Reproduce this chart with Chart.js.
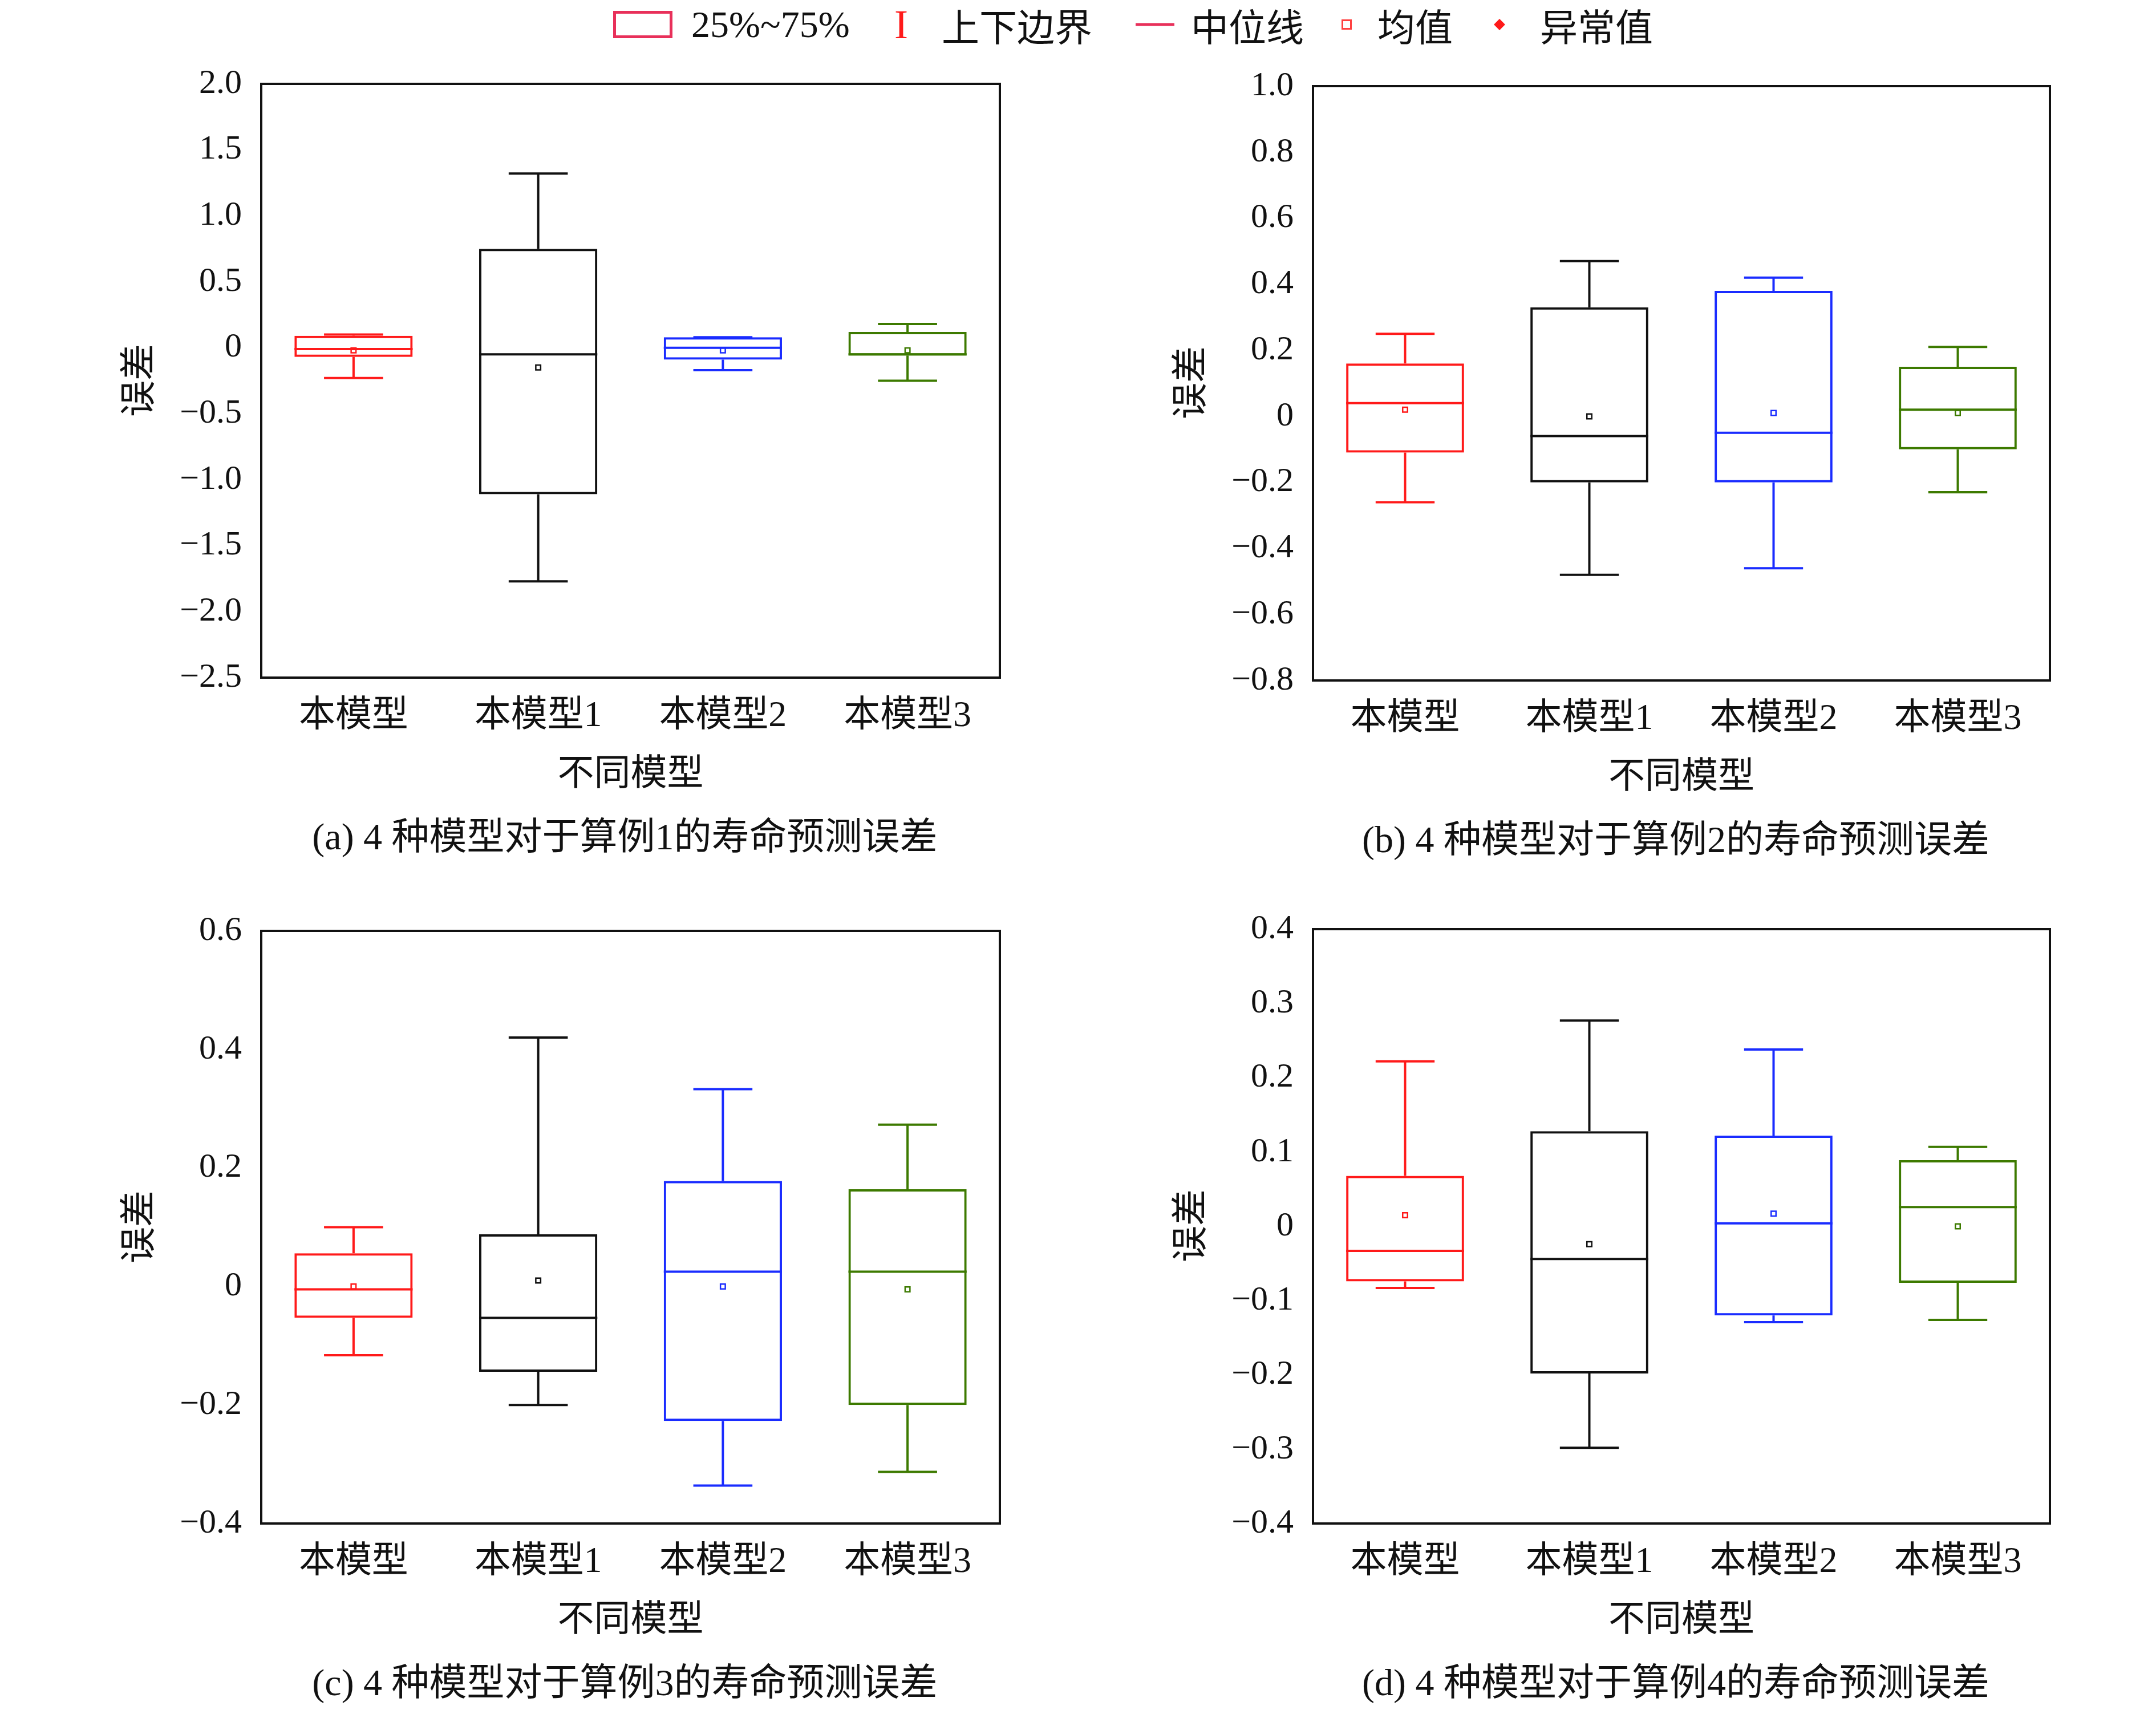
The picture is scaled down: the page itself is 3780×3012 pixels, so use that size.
<!DOCTYPE html>
<html><head><meta charset="utf-8">
<script src="https://cdn.jsdelivr.net/npm/chart.js@4"></script>
<style>
body{margin:0;background:#fff;width:3780px;height:3012px;position:relative;overflow:hidden;
 font-family:"Liberation Serif","Noto Sans CJK SC",serif;color:#111}
canvas{position:absolute}
.t{position:absolute;white-space:nowrap;transform:translate(-50%,-50%);font-size:64px}
.yt{position:absolute;transform:translate(-50%,-50%) rotate(-90deg);font-size:64px;white-space:nowrap}
.lg{position:absolute;top:43px;transform:translateY(-50%);font-size:66px;white-space:nowrap}
</style></head><body>
<script>
const categories = ['本模型', '本模型1', '本模型2', '本模型3'];
const colors = ['#ff1a1a', '#111111', '#1a2cff', '#3d7a00'];

// [whiskerLow, q1, median, q3, whiskerHigh, mean] per model
const caseA = [[-0.23, -0.07, -0.01, 0.09, 0.10, -0.02], [-1.77, -1.11, -0.05, 0.75, 1.32, -0.15],
               [-0.17, -0.09, 0.00, 0.08, 0.08, -0.02], [-0.25, -0.06, -0.05, 0.12, 0.18, -0.02]];
const caseB = [[-0.26, -0.11, 0.04, 0.16, 0.25, 0.02], [-0.48, -0.20, -0.06, 0.33, 0.47, 0.00],
               [-0.46, -0.20, -0.05, 0.38, 0.42, 0.01], [-0.23, -0.10, 0.02, 0.15, 0.21, 0.01]];
const caseC = [[-0.116, -0.053, -0.005, 0.056, 0.10, 0.0], [-0.20, -0.144, -0.053, 0.088, 0.42, 0.01],
               [-0.336, -0.227, 0.025, 0.178, 0.333, 0.0], [-0.313, -0.20, 0.025, 0.164, 0.273, -0.005]];
const caseD = [[-0.083, -0.074, -0.033, 0.068, 0.222, 0.015], [-0.298, -0.198, -0.044, 0.128, 0.277, -0.024],
               [-0.129, -0.12, 0.004, 0.122, 0.238, 0.017], [-0.126, -0.076, 0.026, 0.089, 0.107, 0.0]];

const yRanges = [[-2.5, 2.0, 0.5], [-0.8, 1.0, 0.2], [-0.4, 0.6, 0.2], [-0.4, 0.4, 0.1]];
const captions = ['(a) 4 种模型对于算例1的寿命预测误差', '(b) 4 种模型对于算例2的寿命预测误差',
                  '(c) 4 种模型对于算例3的寿命预测误差', '(d) 4 种模型对于算例4的寿命预测误差'];
// plot areas [left, top, right, bottom]
const plots = [[458, 145, 1753, 1188], [2302, 149, 3594, 1193], [458, 1630, 1753, 2671], [2302, 1627, 3594, 2671]];
const cases = [caseA, caseB, caseC, caseD];

const boxPlugin = {
  id: 'boxes',
  afterDatasetsDraw(chart) {
    const ctx = chart.ctx, y = chart.scales.y;
    const meta = chart.getDatasetMeta(0);
    const rows = chart.config.options.plugins.boxes.rows;
    meta.data.forEach((bar, i) => {
      const r = rows[i], x = bar.x, w = bar.width;
      ctx.save();
      ctx.strokeStyle = colors[i];
      ctx.lineWidth = 4;
      ctx.beginPath();
      ctx.moveTo(x - w / 2, y.getPixelForValue(r[2])); ctx.lineTo(x + w / 2, y.getPixelForValue(r[2]));
      ctx.moveTo(x, y.getPixelForValue(r[3])); ctx.lineTo(x, y.getPixelForValue(r[4]));
      ctx.moveTo(x, y.getPixelForValue(r[1])); ctx.lineTo(x, y.getPixelForValue(r[0]));
      ctx.moveTo(x - w / 4, y.getPixelForValue(r[4])); ctx.lineTo(x + w / 4, y.getPixelForValue(r[4]));
      ctx.moveTo(x - w / 4, y.getPixelForValue(r[0])); ctx.lineTo(x + w / 4, y.getPixelForValue(r[0]));
      ctx.stroke();
      ctx.restore();
    });
    // frame
    const a = chart.chartArea;
    ctx.save(); ctx.strokeStyle = '#111'; ctx.lineWidth = 4;
    ctx.strokeRect(a.left, a.top, a.right - a.left, a.bottom - a.top);
    ctx.restore();
  }
};

function fmt(v) {
  if (Math.abs(v) < 1e-9) return '0';
  const s = Math.abs(v).toFixed(1);
  return (v < 0 ? '\u2212' : '') + s;
}

cases.forEach((rows, k) => {
  const [L, T, R, B] = plots[k];
  const padL = 320, padT = 60, padR = 40, padB = 150;
  const cv = document.createElement('canvas');
  cv.width = R - L + padL + padR; cv.height = B - T + padT + padB;
  cv.style.left = (L - padL) + 'px'; cv.style.top = (T - padT) + 'px';
  document.body.appendChild(cv);
  const [ymin, ymax, step] = yRanges[k];
  new Chart(cv, {
    type: 'bar',
    data: {
      labels: categories,
      datasets: [{
        data: rows.map(r => [r[1], r[3]]),
        backgroundColor: 'rgba(0,0,0,0)', borderColor: colors, borderWidth: 4,
        borderSkipped: false, barPercentage: 0.64, categoryPercentage: 1
      }, {
        type: 'line', data: rows.map(r => r[5]), showLine: false,
        pointStyle: 'rect', pointRadius: 6, borderWidth: 2.5,
        pointBorderColor: colors, pointBackgroundColor: '#fff'
      }]
    },
    options: {
      responsive: false, devicePixelRatio: 1, animation: false,
      layout: { padding: { left: 0, top: padT, right: padR, bottom: 0 } },
      plugins: { legend: { display: false }, tooltip: { enabled: false }, boxes: { rows } },
      scales: {
        x: {
          offset: true, grid: { display: false }, border: { display: false },
          ticks: { color: '#111', padding: 22, font: { size: 64, family: 'Liberation Serif, Noto Sans CJK SC' } },
          afterFit(s) { s.height = padB; }
        },
        y: {
          min: ymin, max: ymax, grid: { display: false }, border: { display: false },
          ticks: { stepSize: step, color: '#111', padding: 26, callback: v => fmt(v),
                   font: { size: 60, family: 'Liberation Serif' } },
          afterFit(s) { s.width = padL; }
        }
      }
    },
    plugins: [boxPlugin]
  });
  const cx = (L + R) / 2, cy = (T + B) / 2;
  const add = (cls, txt, x, y) => {
    const d = document.createElement('div'); d.className = cls; d.textContent = txt;
    d.style.left = x + 'px'; d.style.top = y + 'px'; document.body.appendChild(d);
  };
  add('yt', '误差', k % 2 === 1 ? 2080 : 236, cy);
  add('t', '不同模型', cx, B + 160);
  add('t', captions[k], cx - 10, B + 272);
  document.body.lastChild.style.fontSize = '66px';
});

// legend
const lg = (html, x) => {
  const d = document.createElement('div'); d.className = 'lg'; d.innerHTML = html;
  d.style.left = x + 'px'; document.body.appendChild(d);
};
lg('<div style="width:104px;height:48px;border:5px solid #e8305a;box-sizing:border-box"></div>', 1075);
lg('25%~75%', 1212);
lg('<span style="color:#ff1a1a;font-family:Liberation Serif;font-size:72px">I</span>', 1568);
lg('上下边界', 1651);
lg('<div style="width:68px;height:5px;background:#e8305a"></div>', 1991);
lg('中位线', 2088);
lg('<div style="width:12px;height:12px;border:3px solid #ff4040"></div>', 2352);
lg('均值', 2415);
lg('<div style="width:14px;height:14px;background:#ff1a1a;transform:rotate(45deg)"></div>', 2622);
lg('异常值', 2700);
</script>
</body></html>
